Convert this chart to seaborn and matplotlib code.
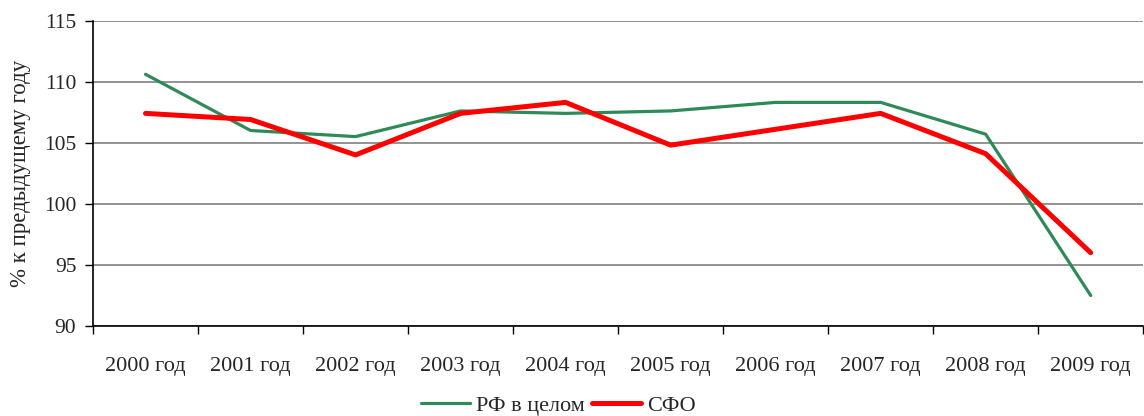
import pandas as pd
import seaborn as sns
import matplotlib.pyplot as plt
from matplotlib.ticker import FixedLocator

years = ["2000 год", "2001 год", "2002 год", "2003 год", "2004 год",
         "2005 год", "2006 год", "2007 год", "2008 год", "2009 год"]
rf = [110.6, 106.0, 105.5, 107.6, 107.4, 107.6, 108.3, 108.3, 105.7, 92.5]
sfo = [107.4, 106.9, 104.0, 107.4, 108.3, 104.8, 106.1, 107.4, 104.1, 96.0]

df = pd.DataFrame({"x": list(range(len(years))) * 2,
                   "val": rf + sfo,
                   "series": ["РФ в целом"] * len(years) + ["СФО"] * len(years)})

sns.set_theme(style="white")
plt.rcParams['font.family'] = ['Liberation Serif', 'DejaVu Serif']

fig = plt.figure(figsize=(11.44, 4.16), dpi=100)
ax = fig.add_axes([0.0813, 0.2163, 0.918, 0.7344])

palette = {"РФ в целом": "#2E8B57", "СФО": "#FF0000"}
sns.lineplot(data=df, x="x", y="val", hue="series", palette=palette,
             ax=ax, legend=False, size="series", sizes={"РФ в целом": 2.3, "СФО": 3.6})
for line in ax.lines:
    line.set_solid_capstyle("round")

ax.set_xlim(-0.5, 9.5)
ax.set_ylim(90, 115)
ax.set_yticks([90, 95, 100, 105, 110, 115])
ax.yaxis.grid(True, color="#808080", linewidth=1.2)
ax.set_xticks(range(len(years)))
ax.set_xticklabels(years, fontsize=16)
ax.xaxis.set_minor_locator(FixedLocator([i - 0.5 for i in range(len(years) + 1)]))
ax.tick_params(axis="x", which="major", length=0, pad=22)
ax.tick_params(axis="x", which="minor", length=6, width=1, color="black", direction="out", bottom=True)
ax.tick_params(axis="y", labelsize=15.5, length=6, width=1, color="black", direction="out", left=True, pad=6)
ax.set_xlabel("")
ax.set_ylabel("% к предыдущему году", fontsize=16.5, labelpad=9)

for s in ["top", "right"]:
    ax.spines[s].set_visible(False)
for s in ["left", "bottom"]:
    ax.spines[s].set_color("black")
    ax.spines[s].set_linewidth(1.2)

handles = [plt.Line2D([], [], color="#2E8B57", lw=2.3),
           plt.Line2D([], [], color="#FF0000", lw=3.6)]
fig.legend(handles, ["РФ в целом", "СФО"], loc="center", bbox_to_anchor=(0.488, 0.025),
           ncol=2, frameon=False, fontsize=16, handlelength=2.2, handletextpad=0.3,
           columnspacing=0.3)

fig.savefig("out.png", dpi=100)
